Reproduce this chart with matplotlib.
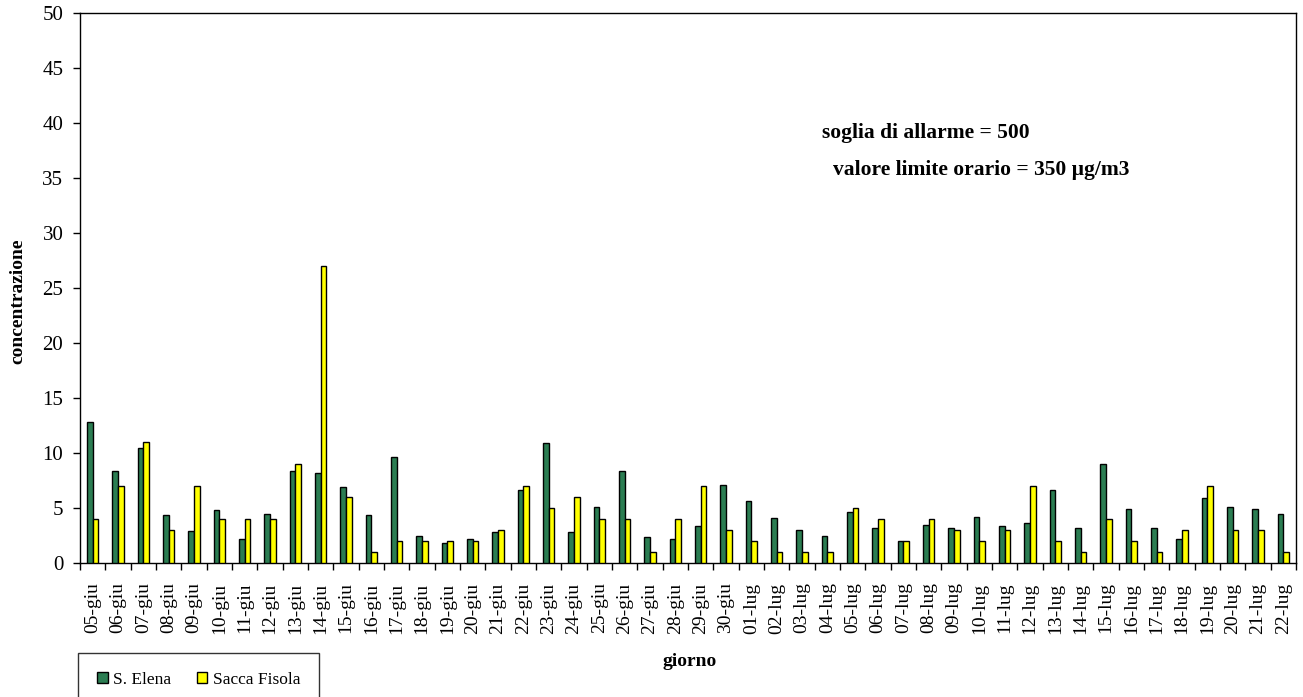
import matplotlib
matplotlib.use("Agg")
import matplotlib.pyplot as plt
import numpy as np

plt.rcParams['font.family'] = ['Liberation Serif', 'DejaVu Serif']

days = ["05-giu", "06-giu", "07-giu", "08-giu", "09-giu", "10-giu", "11-giu", "12-giu",
        "13-giu", "14-giu", "15-giu", "16-giu", "17-giu", "18-giu", "19-giu", "20-giu",
        "21-giu", "22-giu", "23-giu", "24-giu", "25-giu", "26-giu", "27-giu", "28-giu",
        "29-giu", "30-giu", "01-lug", "02-lug", "03-lug", "04-lug", "05-lug", "06-lug",
        "07-lug", "08-lug", "09-lug", "10-lug", "11-lug", "12-lug", "13-lug", "14-lug",
        "15-lug", "16-lug", "17-lug", "18-lug", "19-lug", "20-lug", "21-lug", "22-lug"]

s_elena = [12.8, 8.4, 10.5, 4.4, 2.9, 4.8, 2.2, 4.5,
           8.4, 8.2, 6.9, 4.4, 9.6, 2.5, 1.8, 2.2,
           2.8, 6.6, 10.9, 2.8, 5.1, 8.4, 2.4, 2.2,
           3.4, 7.1, 5.6, 4.1, 3.0, 2.5, 4.6, 3.2,
           2.0, 3.5, 3.2, 4.2, 3.4, 3.6, 6.6, 3.2,
           9.0, 4.9, 3.2, 2.2, 5.9, 5.1, 4.9, 4.5]

sacca_fisola = [4, 7, 11, 3, 7, 4, 4, 4,
                9, 27, 6, 1, 2, 2, 2, 2,
                3, 7, 5, 6, 4, 4, 1, 4,
                7, 3, 2, 1, 1, 1, 5, 4,
                2, 4, 3, 2, 3, 7, 2, 1,
                4, 2, 1, 3, 7, 3, 3, 1]

W, H = 1303, 697
fig = plt.figure(figsize=(W / 100, H / 100), dpi=100)
ax = fig.add_axes([80 / W, 1 - 563 / H, (1296 - 80) / W, (563 - 13) / H])

x = np.arange(len(days))
w = 0.23
ax.bar(x - w / 2, s_elena, width=w, color='#2B7D52', edgecolor='black', linewidth=1.0,
       label='S. Elena', zorder=3)
ax.bar(x + w / 2, sacca_fisola, width=w, color='#FFFF00', edgecolor='black', linewidth=1.0,
       label='Sacca Fisola', zorder=3)

ax.set_xlim(-0.5, len(days) - 0.5)
ax.set_ylim(0, 50)
ax.set_yticks(np.arange(0, 51, 5))
ax.tick_params(axis='y', labelsize=15, direction='out', length=5, width=1, pad=7)

ax.set_xticks(x)
ax.set_xticklabels(days, rotation=90, fontsize=14)
ax.tick_params(axis='x', length=0, pad=14)
ax.set_xticks(np.arange(-0.5, len(days), 1), minor=True)
ax.tick_params(axis='x', which='minor', direction='out', length=5, width=1)

for sp in ax.spines.values():
    sp.set_linewidth(1.0)
    sp.set_color('black')

fig.text(18 / W, 1 - 301 / H, 'concentrazione', fontsize=14, fontweight='bold',
         rotation=90, ha='center', va='center')
fig.text(690 / W, 1 - 662 / H, 'giorno', fontsize=14, fontweight='bold',
         ha='center', va='center')

fig.text(822 / W, 1 - 133 / H, 'soglia di allarme = 500',
         fontsize=15.5, fontweight='bold', ha='left', va='center')
fig.text(833 / W, 1 - 170 / H, 'valore limite orario = 350 µg/m3',
         fontsize=15.5, fontweight='bold', ha='left', va='center')

leg = fig.legend(loc='upper left', bbox_to_anchor=(78 / W, 1 - 653 / H), borderaxespad=0,
                 ncol=2, fontsize=12.5, frameon=True, fancybox=False, edgecolor='black',
                 handlelength=0.6, handleheight=0.6, handletextpad=0.3, columnspacing=1.5,
                 borderpad=1.1)
leg.get_frame().set_linewidth(1.0)

fig.savefig('out.png', dpi=100)
